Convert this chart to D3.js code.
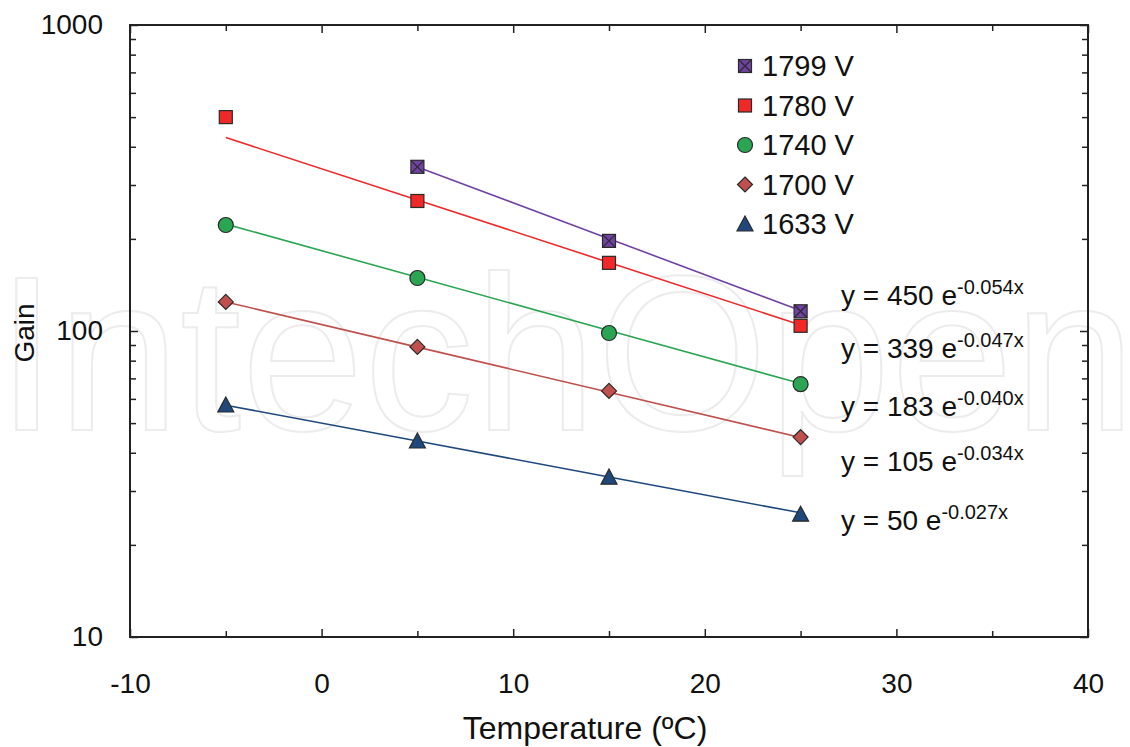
<!DOCTYPE html>
<html>
<head>
<meta charset="utf-8">
<script src="https://cdnjs.cloudflare.com/ajax/libs/d3/7.8.5/d3.min.js"></script>
<style>
  body { margin: 0; background: #fff; }
  text { font-family: "Liberation Sans", Arial, sans-serif; fill: #111; }
</style>
</head>
<body>
<script>
// data
var temps = [-5, 5, 15, 25];
var series = ["1799 V", "1780 V", "1740 V", "1700 V", "1633 V"];
var gain1799 = [null, 344, 197, 116];
var gain1780 = [500, 266, 167, 104];
var gain1740 = [222, 149, 98.5, 67];
var gain1700 = [124.5, 88.7, 63.7, 45];
var gain1633 = [57.3, 43.7, 33.3, 25.2];
// fitted trend lines y = a e^(b x)
var fitA = [450, 339, 183, 105, 50];
var fitB = ["-0.054", "-0.047", "-0.040", "-0.034", "-0.027"];
var colors = ["#7042a4", "#f02828", "#2aa653", "#c0504d", "#1f497d"];
var shapes = ["cross", "square", "circle", "diamond", "triangle"];
var xTicks = [-10, 0, 10, 20, 30, 40];
var yTicks = [10, 100, 1000];

var allGain = [gain1799, gain1780, gain1740, gain1700, gain1633];

var W = 1130, H = 747;
var margin = { top: 25, right: 42, bottom: 110, left: 130 },
    width = W - margin.left - margin.right,
    height = H - margin.top - margin.bottom;

var root = d3.select("body").append("svg")
    .attr("width", W)
    .attr("height", H);

// watermark
root.append("text")
    .attr("x", -4)
    .attr("y", 430)
    .attr("textLength", 1140)
    .attr("lengthAdjust", "spacingAndGlyphs")
    .style("font-size", "220px")
    .style("fill", "none")
    .style("stroke", "#ececec")
    .style("stroke-width", 2)
    .text("IntechOpen");

var svg = root.append("g")
    .attr("transform", "translate(" + margin.left + "," + margin.top + ")");

var x = d3.scaleLinear().domain([-10, 40]).range([0, width]);
var y = d3.scaleLog().domain([10, 1000]).range([height, 0]);

var minorY = [];
[10, 100].forEach(function(d) {
    for (var i = 2; i <= 9; i++) minorY.push(d * i);
});
var minorX = d3.range(-5, 40, 10);

function styleAxis(g) {
    g.select(".domain").remove();
    g.selectAll("line").attr("stroke", "#222").attr("stroke-width", 1.5);
    g.selectAll("text").style("font-size", "28px").style("fill", "#111");
}

var plain = function(d) { return String(d); };

// Y-as links
svg.append("g")
    .call(d3.axisLeft(y).tickValues(yTicks).tickFormat(plain).tickSize(-8).tickPadding(27))
    .call(styleAxis);
svg.append("g")
    .call(d3.axisLeft(y).tickValues(minorY).tickFormat("").tickSize(-6))
    .call(styleAxis);
// Y-as rechts
svg.append("g")
    .attr("transform", "translate(" + width + ",0)")
    .call(d3.axisRight(y).tickValues(yTicks).tickFormat("").tickSize(-8))
    .call(styleAxis);
svg.append("g")
    .attr("transform", "translate(" + width + ",0)")
    .call(d3.axisRight(y).tickValues(minorY).tickFormat("").tickSize(-6))
    .call(styleAxis);
// X-as onder
svg.append("g")
    .attr("transform", "translate(0," + height + ")")
    .call(d3.axisBottom(x).tickValues(xTicks).tickFormat(plain).tickSize(-8).tickPadding(36))
    .call(styleAxis);
svg.append("g")
    .attr("transform", "translate(0," + height + ")")
    .call(d3.axisBottom(x).tickValues(minorX).tickFormat("").tickSize(-6))
    .call(styleAxis);
// X-as boven
svg.append("g")
    .call(d3.axisTop(x).tickValues(xTicks).tickFormat("").tickSize(-8))
    .call(styleAxis);
svg.append("g")
    .call(d3.axisTop(x).tickValues(minorX).tickFormat("").tickSize(-6))
    .call(styleAxis);

// frame
svg.append("rect")
    .attr("width", width)
    .attr("height", height)
    .attr("fill", "none")
    .attr("stroke", "#222")
    .attr("stroke-width", 2);

// trend lines
var line = d3.line()
    .x(function(d) { return x(d.t); })
    .y(function(d) { return y(d.g); });

allGain.forEach(function(vals, i) {
    var ts = temps.filter(function(t, j) { return vals[j] != null; });
    var pts = ts.map(function(t) { return { t: t, g: fitA[i] * Math.exp(+fitB[i] * t) }; });
    svg.append("path")
        .datum(pts)
        .attr("d", line)
        .attr("fill", "none")
        .attr("stroke", colors[i])
        .attr("stroke-width", 1.6);
});

// markers
function drawMarker(g, shape, color, cx, cy) {
    var s = g.append("g").attr("transform", "translate(" + cx + "," + cy + ")");
    var m;
    if (shape === "square" || shape === "cross") {
        m = s.append("rect").attr("x", -6.5).attr("y", -6.5).attr("width", 13).attr("height", 13);
    } else if (shape === "circle") {
        m = s.append("circle").attr("r", 7.5);
    } else if (shape === "diamond") {
        m = s.append("path").attr("d", "M0,-7.5L7.5,0L0,7.5L-7.5,0Z");
    } else {
        m = s.append("path").attr("d", "M0,-8L8,7L-8,7Z");
    }
    m.attr("fill", color).attr("stroke", "#2a2a2a").attr("stroke-width", 1.2);
    if (shape === "cross") {
        s.append("path")
            .attr("d", "M-6.5,-6.5L6.5,6.5M6.5,-6.5L-6.5,6.5")
            .attr("stroke", "#2a2a2a")
            .attr("stroke-width", 1.2);
    }
}

allGain.forEach(function(vals, i) {
    vals.forEach(function(v, j) {
        if (v == null) return;
        drawMarker(svg, shapes[i], colors[i], x(temps[j]), y(v));
    });
});

// legend
var legend = root.append("g").attr("transform", "translate(745,66)");
series.forEach(function(name, i) {
    var row = legend.append("g").attr("transform", "translate(0," + (i * 39.5) + ")");
    drawMarker(row, shapes[i], colors[i], 0, 0);
    row.append("text")
        .attr("x", 17)
        .attr("dy", "0.36em")
        .style("font-size", "29px")
        .text(name);
});

// equations
var eqY = [305, 358, 416, 471, 530];
fitA.forEach(function(a, i) {
    var t = root.append("text")
        .attr("x", 841)
        .attr("y", eqY[i])
        .style("font-size", "28px");
    t.append("tspan").text("y = " + a + " e");
    t.append("tspan")
        .attr("dy", -11)
        .style("font-size", "20px")
        .text(fitB[i] + "x");
});

// axis titles
root.append("text")
    .attr("transform", "translate(34,333) rotate(-90)")
    .attr("text-anchor", "middle")
    .style("font-size", "28px")
    .text("Gain");

root.append("text")
    .attr("x", 585)
    .attr("y", 739)
    .attr("text-anchor", "middle")
    .style("font-size", "32px")
    .text("Temperature (ºC)");
</script>
</body>
</html>
